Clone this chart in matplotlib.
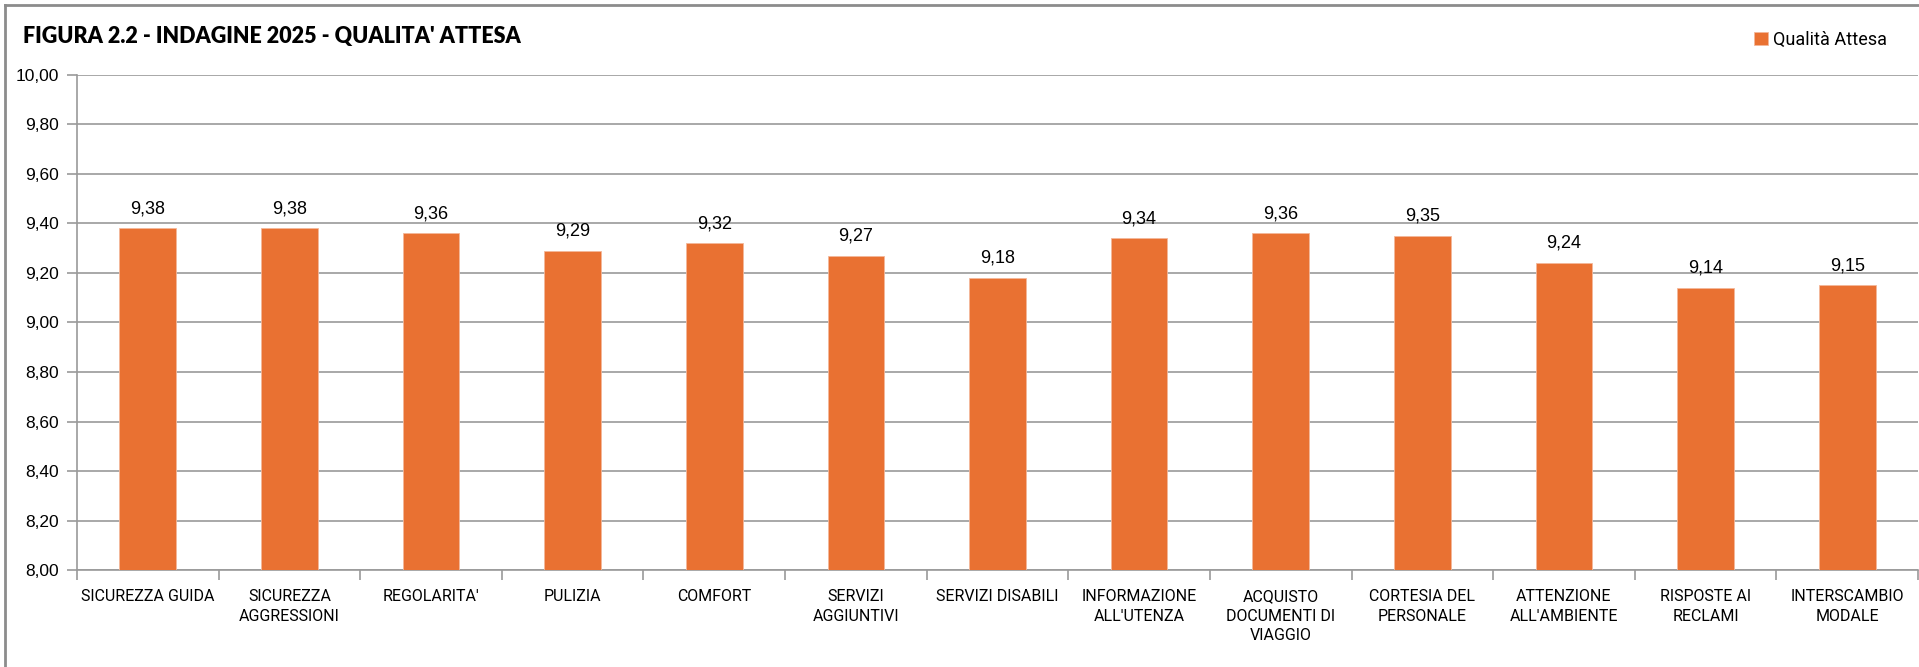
import matplotlib.pyplot as plt
import numpy as np
from matplotlib.lines import Line2D

categories = [
    "SICUREZZA GUIDA",
    "SICUREZZA\nAGGRESSIONI",
    "REGOLARITA'",
    "PULIZIA",
    "COMFORT",
    "SERVIZI\nAGGIUNTIVI",
    "SERVIZI DISABILI",
    "INFORMAZIONE\nALL'UTENZA",
    "ACQUISTO\nDOCUMENTI DI\nVIAGGIO",
    "CORTESIA DEL\nPERSONALE",
    "ATTENZIONE\nALL'AMBIENTE",
    "RISPOSTE AI\nRECLAMI",
    "INTERSCAMBIO\nMODALE",
]
values = [9.38, 9.38, 9.36, 9.29, 9.32, 9.27, 9.18, 9.34, 9.36, 9.35, 9.24, 9.14, 9.15]
yticks = [8.0, 8.2, 8.4, 8.6, 8.8, 9.0, 9.2, 9.4, 9.6, 9.8, 10.0]

orange = "#E97132"
grid_col = "#9a9a9a"

fig = plt.figure(figsize=(19.19, 6.67), dpi=100)
ax = fig.add_axes([0.0401, 0.1454, 0.9594, 0.7422])

x = np.arange(len(categories))
bars = ax.bar(x, values, width=0.40, color=orange, edgecolor="#f4b89a",
              linewidth=0.6, label="Qualità Attesa", zorder=3)

ax.set_ylim(8.0, 10.0)
ax.set_xlim(-0.5, len(categories) - 0.5)
ax.set_yticks(yticks)
ax.set_yticklabels([f"{v:.2f}".replace(".", ",") for v in yticks],
                   fontsize=12.5, family="Liberation Sans")
ax.yaxis.grid(True, color=grid_col, linewidth=1.2, zorder=0)
ax.tick_params(axis="y", length=7, width=1.2, color=grid_col, pad=6)

# category labels under the bars, tick marks between categories
ax.set_xticks(x)
ax.set_xticklabels(categories, fontsize=11.5, family="Roboto", linespacing=1.35)
ax.tick_params(axis="x", which="major", length=0, pad=14)
ax.set_xticks(np.arange(len(categories) + 1) - 0.5, minor=True)
ax.tick_params(axis="x", which="minor", length=7, width=1.2, color=grid_col)

for side in ["top", "right"]:
    ax.spines[side].set_visible(False)
for side in ["left", "bottom"]:
    ax.spines[side].set_color(grid_col)
    ax.spines[side].set_linewidth(1.2)

for xi, v in zip(x, values):
    ax.annotate(f"{v:.2f}".replace(".", ","), (xi, v), xytext=(0, 8),
                textcoords="offset points", ha="center", va="bottom",
                fontsize=13, family="Liberation Sans")

fig.text(23 / 1919, 1 - 37 / 667, "FIGURA 2.2 - INDAGINE 2025 - QUALITA' ATTESA",
         fontsize=15.5, fontweight="heavy", family="Lato", va="center", ha="left")

fig.legend(handles=[bars], labels=["Qualità Attesa"], loc="center left",
           bbox_to_anchor=(1738 / 1919, 1 - 40 / 667), frameon=False,
           handlelength=0.75, handleheight=0.75, handletextpad=0.3,
           prop={"family": "Roboto", "size": 13})

# outer frame of the chart area
fig.add_artist(Line2D([5 / 1919, 1], [1 - 5 / 667] * 2, transform=fig.transFigure,
                      color="#8c8c8c", linewidth=2))
fig.add_artist(Line2D([5 / 1919] * 2, [0, 1 - 5 / 667], transform=fig.transFigure,
                      color="#8c8c8c", linewidth=2))

fig.savefig("out.png", dpi=100)
